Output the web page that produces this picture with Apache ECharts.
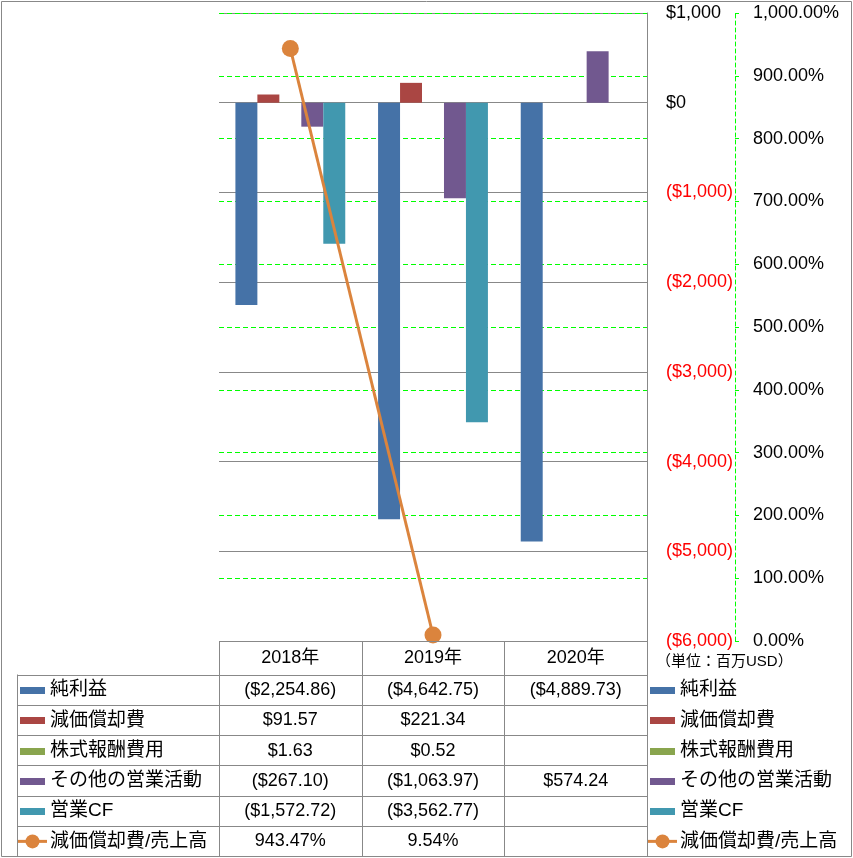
<!DOCTYPE html>
<html><head><meta charset="utf-8">
<script src="https://cdn.jsdelivr.net/npm/echarts@6/dist/echarts.min.js"></script>
<style>html,body{margin:0;padding:0;background:#fff}#c{width:853px;height:858px}</style>
</head><body><div id="c"></div>
<script>
// ---- data ----
const categories = ['2018年', '2019年', '2020年'];
const seriesNames = ['純利益', '減価償却費', '株式報酬費用', 'その他の営業活動', '営業CF', '減価償却費/売上高'];
const netIncome = [-2254.86, -4642.75, -4889.73];
const depreciation = [91.57, 221.34, null];
const stockComp = [1.63, 0.52, null];
const otherOps = [-267.10, -1063.97, 574.24];
const operatingCF = [-1572.72, -3562.77, null];
const depToSales = [943.47, 9.54, null];
const dollarAxisMin = -6000, dollarAxisMax = 1000, dollarAxisStep = 1000;
const pctAxisMin = 0, pctAxisMax = 1000, pctAxisStep = 100;
const unitLabel = '（単位：百万USD）';

// ---- styles ----
const colors = ['#4572A7', '#AA4643', '#89A54E', '#71588F', '#4198AF', '#DB843D'];
const FONT = '"Liberation Sans", "Noto Sans CJK JP", sans-serif';
const GRAY = '#888888';
const GREEN = '#00FF00';

function fmtNum(v, d) {
  const s = Math.abs(v).toFixed(d);
  const parts = s.split('.');
  const ip = parts[0].replace(/\B(?=(\d{3})+(?!\d))/g, ',');
  return parts.length > 1 ? ip + '.' + parts[1] : ip;
}
function dollar(v, d) { return v < 0 ? '($' + fmtNum(v, d) + ')' : '$' + fmtNum(v, d); }
function pct(v) { return fmtNum(v, 2) + '%'; }

const barData = [netIncome, depreciation, stockComp, otherOps, operatingCF];

const series = barData.map((arr, i) => ({
  name: seriesNames[i], type: 'bar', yAxisIndex: 0,
  data: arr, itemStyle: { color: colors[i] },
  barGap: '0%', barCategoryGap: '23%', animation: false
}));
series.push({
  name: seriesNames[5], type: 'line', yAxisIndex: 1, data: depToSales,
  symbol: 'circle', symbolSize: 17, z: 5,
  lineStyle: { color: colors[5], width: 3 },
  itemStyle: { color: colors[5] }, animation: false
});

const option = {
  animation: false,
  backgroundColor: '#fff',
  grid: { left: 219, right: 206, top: 13, bottom: 217, containLabel: false },
  xAxis: {
    type: 'category', data: categories,
    axisLine: { show: false }, axisTick: { show: false },
    axisLabel: { fontSize: 18, color: '#000', fontFamily: FONT, margin: 8 },
    splitLine: { show: false }
  },
  yAxis: [
    {
      type: 'value', position: 'right', min: dollarAxisMin, max: dollarAxisMax, interval: dollarAxisStep,
      axisLine: { show: true, lineStyle: { color: GRAY, width: 1 } },
      axisTick: { show: false },
      axisLabel: {
        margin: 19, fontSize: 18, fontFamily: FONT, align: 'left',
        formatter: v => dollar(v, 0),
        color: v => (Number(v) < 0 ? '#FF0000' : '#000000')
      },
      splitLine: { show: true, lineStyle: { color: GRAY, width: 1 } }
    },
    {
      type: 'value', position: 'right', offset: 88, min: pctAxisMin, max: pctAxisMax, interval: pctAxisStep,
      axisLine: { show: true, lineStyle: { color: GREEN, width: 1, type: [4, 3] } },
      axisTick: { show: true, length: 4, inside: false, lineStyle: { color: GREEN } },
      axisLabel: { margin: 18, fontSize: 18, fontFamily: FONT, color: '#000', align: 'left', formatter: v => pct(v) },
      splitLine: { show: true, lineStyle: { color: GREEN, width: 1, type: [5, 3] } }
    }
  ],
  legend: { show: false },
  tooltip: { show: false },
  series: series
};

const chart = echarts.init(document.getElementById('c'), null, { renderer: 'canvas' });
chart.setOption(option);

// ---- data table & legends built from the axes ----
const centers = categories.map((c, i) => chart.convertToPixel({ xAxisIndex: 0 }, i));
const band = centers.length > 1 ? centers[1] - centers[0] : 142;
const colEdges = [centers[0] - band / 2].concat(centers.map(c => c + band / 2));
const tableTop = chart.convertToPixel({ yAxisIndex: 0 }, dollarAxisMin);
const headerBottom = tableTop + 33.5;
const rowH = 30.25;
const tableLeft = 17;
const rowCount = seriesNames.length;
const tableBottom = headerBottom + rowH * rowCount;
const allValues = barData.concat([depToSales]);

const els = [];
function hline(x1, x2, y) { els.push({ type: 'line', shape: { x1: x1, y1: Math.round(y) + 0.5, x2: x2, y2: Math.round(y) + 0.5 }, style: { stroke: GRAY, lineWidth: 1 }, z: 10 }); }
function vline(x, y1, y2) { els.push({ type: 'line', shape: { x1: Math.round(x) + 0.5, y1: y1, x2: Math.round(x) + 0.5, y2: y2 }, style: { stroke: GRAY, lineWidth: 1 }, z: 10 }); }
function text(t, x, y, align, size, color) {
  els.push({ type: 'text', z: 11, style: { text: t, x: x, y: y, fill: color || '#000', fontSize: size, fontFamily: FONT, align: align, verticalAlign: 'middle', textAlign: align, textVerticalAlign: 'middle' } });
}
function key(i, x0, y) {
  if (i < 5) {
    els.push({ type: 'rect', z: 11, shape: { x: x0, y: Math.round(y) - 3, width: 25, height: 7 }, style: { fill: colors[i] } });
  } else {
    els.push({ type: 'line', z: 11, shape: { x1: x0 - 2, y1: y, x2: x0 + 27, y2: y }, style: { stroke: colors[i], lineWidth: 3 } });
    els.push({ type: 'circle', z: 12, shape: { cx: x0 + 12.5, cy: y, r: 7 }, style: { fill: colors[i] } });
  }
}

// outer border
els.push({ type: 'rect', z: 9, shape: { x: 1.5, y: 1.5, width: 850, height: 855 }, style: { fill: 'none', stroke: GRAY, lineWidth: 1 } });

// horizontal lines
hline(colEdges[0], colEdges[colEdges.length - 1], tableTop);
for (let r = 0; r <= rowCount; r++) hline(tableLeft, colEdges[colEdges.length - 1], headerBottom + r * rowH);
// vertical lines
vline(tableLeft, headerBottom, tableBottom);
colEdges.forEach(x => vline(x, tableTop, tableBottom));

// rows
for (let r = 0; r < rowCount; r++) {
  const cy = headerBottom + r * rowH + rowH / 2 + 0.5;
  key(r, 20, cy);
  text(seriesNames[r], 50, cy, 'left', 19);
  allValues[r].forEach((v, c) => {
    if (v === null || v === undefined) return;
    text(r < 5 ? dollar(v, 2) : pct(v), centers[c], cy, 'center', 18);
  });
  // right legend
  key(r, 650, cy);
  text(seriesNames[r], 680, cy, 'left', 19);
}
text(unitLabel, 656, tableTop + 21, 'left', 15);

chart.setOption({ graphic: { elements: els } });
</script>
</body></html>
